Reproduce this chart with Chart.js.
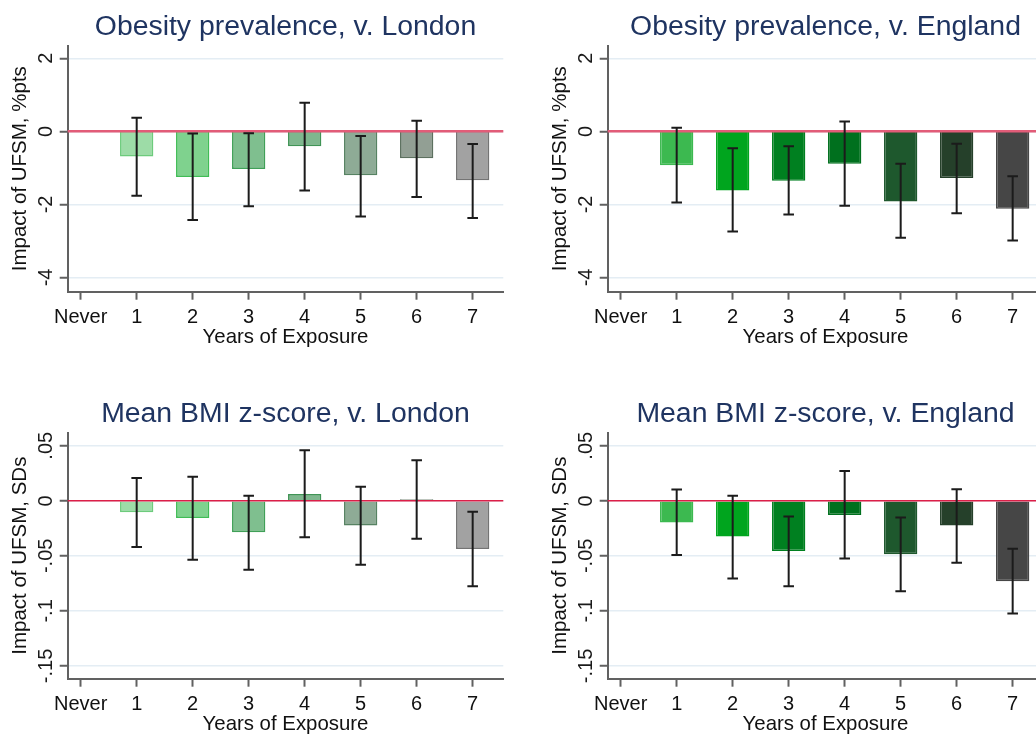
<!DOCTYPE html>
<html>
<head>
<meta charset="utf-8">
<title>Impact of UFSM by years of exposure</title>
<script src="https://cdn.jsdelivr.net/npm/chart.js@4.4.1/dist/chart.umd.min.js"></script>
<style>
  html, body { margin: 0; padding: 0; background: #ffffff; }
  #page { position: relative; width: 1036px; height: 734px; overflow: hidden; background: #ffffff; }
  .panel { position: absolute; width: 520px; height: 387px; }
  .panel canvas { display: block; }
</style>
</head>
<body>
<div id="page">
  <div class="panel" style="left:0px;top:0px"><canvas id="obesityLondonChart" width="520" height="387"></canvas></div>
  <div class="panel" style="left:540px;top:0px"><canvas id="obesityEnglandChart" width="520" height="387"></canvas></div>
  <div class="panel" style="left:0px;top:387px"><canvas id="bmiLondonChart" width="520" height="387"></canvas></div>
  <div class="panel" style="left:540px;top:387px"><canvas id="bmiEnglandChart" width="520" height="387"></canvas></div>
</div>
<script>
// ---- Data ----
const exposureYears = [1, 2, 3, 4, 5, 6, 7];
const xTickValues = [0, 1, 2, 3, 4, 5, 6, 7];
const xTickLabels = ['Never', '1', '2', '3', '4', '5', '6', '7'];

// Obesity prevalence (%-points), comparison with London
const obesityLondon     = [-0.69, -1.25, -1.03, -0.41, -1.20, -0.74, -1.34];
const obesityLondonLow  = [-1.76, -2.43, -2.05, -1.62, -2.33, -1.80, -2.37];
const obesityLondonHigh = [ 0.37, -0.06, -0.05,  0.78, -0.13,  0.29, -0.35];

// Obesity prevalence (%-points), comparison with England
const obesityEngland     = [-0.93, -1.62, -1.35, -0.89, -1.92, -1.28, -2.12];
const obesityEnglandLow  = [-1.95, -2.74, -2.28, -2.04, -2.91, -2.24, -2.99];
const obesityEnglandHigh = [ 0.10, -0.46, -0.41,  0.27, -0.89, -0.34, -1.23];

// Mean BMI z-score (SDs), comparison with London
const bmiLondon     = [-0.0103, -0.0155, -0.0286,  0.0061, -0.0225,  0.0015, -0.0438];
const bmiLondonLow  = [-0.0420, -0.0535, -0.0626, -0.0331, -0.0580, -0.0344, -0.0775];
const bmiLondonHigh = [ 0.0207,  0.0219,  0.0046,  0.0459,  0.0128,  0.0368, -0.0100];

// Mean BMI z-score (SDs), comparison with England
const bmiEngland     = [-0.0198, -0.0325, -0.0456, -0.0128, -0.0486, -0.0225, -0.0730];
const bmiEnglandLow  = [-0.0492, -0.0705, -0.0775, -0.0523, -0.0821, -0.0562, -0.1024];
const bmiEnglandHigh = [ 0.0103,  0.0046, -0.0143,  0.0271, -0.0152,  0.0106, -0.0435];

const obesityTickValues = [-4, -2, 0, 2];
const obesityTickLabels = ['-4', '-2', '0', '2'];
const bmiTickValues = [-0.15, -0.1, -0.05, 0, 0.05];
const bmiTickLabels = ['-.15', '-.1', '-.05', '0', '.05'];

// ---- Styling ----
const FONT = "'Liberation Sans', Arial, Helvetica, sans-serif";
const barColors = ['#3cb950', '#00a51e', '#008020', '#00701e', '#1e582d', '#25402a', '#464646'];
const AXIS_GREY = '#616161';
const GRID_BLUE = '#e4edf4';
const TITLE_NAVY = '#1f3461';

function withAlpha(hex, a) {
  const n = parseInt(hex.slice(1), 16);
  return 'rgba(' + ((n >> 16) & 255) + ',' + ((n >> 8) & 255) + ',' + (n & 255) + ',' + a + ')';
}

// Red reference line at zero plus confidence-interval whiskers
function whiskerPlugin(low, high, zeroColor, zeroWidth) {
  return {
    id: 'whiskers',
    afterDatasetsDraw(chart) {
      const { ctx, chartArea, scales: { x, y } } = chart;
      ctx.save();
      const y0 = y.getPixelForValue(0);
      ctx.strokeStyle = zeroColor;
      ctx.lineWidth = zeroWidth;
      ctx.beginPath();
      ctx.moveTo(chartArea.left, y0);
      ctx.lineTo(chartArea.right, y0);
      ctx.stroke();

      ctx.strokeStyle = '#1b1b1b';
      ctx.lineWidth = 2;
      const cap = 5.3;
      exposureYears.forEach((yr, i) => {
        const px = x.getPixelForValue(yr);
        const pLo = y.getPixelForValue(low[i]);
        const pHi = y.getPixelForValue(high[i]);
        ctx.beginPath();
        ctx.moveTo(px, pHi); ctx.lineTo(px, pLo);
        ctx.moveTo(px - cap, pHi); ctx.lineTo(px + cap, pHi);
        ctx.moveTo(px - cap, pLo); ctx.lineTo(px + cap, pLo);
        ctx.stroke();
      });
      ctx.restore();
    }
  };
}

// Vertical (rotated) labels for the value axis
function rotatedYLabels(tickLabels) {
  return {
    id: 'rotatedYLabels',
    afterDraw(chart) {
      const { ctx, chartArea, scales: { y } } = chart;
      ctx.save();
      ctx.font = '20px ' + FONT;
      ctx.fillStyle = '#1a1a1a';
      ctx.textAlign = 'center';
      ctx.textBaseline = 'middle';
      y.ticks.forEach((t, i) => {
        const py = y.getPixelForValue(t.value);
        ctx.save();
        ctx.translate(chartArea.left - 21, py);
        ctx.rotate(-Math.PI / 2);
        ctx.fillText(tickLabels[i], 0, 0);
        ctx.restore();
      });
      ctx.restore();
    }
  };
}

function makePanel(canvasId, cfg) {
  const fills = barColors.map(c => cfg.faded ? withAlpha(c, 0.5) : c);
  const borders = barColors.map(c => cfg.faded ? withAlpha(c, 0.75) : c);
  return new Chart(document.getElementById(canvasId), {
    type: 'bar',
    data: {
      datasets: [{
        data: exposureYears.map((yr, i) => ({ x: yr, y: cfg.values[i] })),
        backgroundColor: fills,
        borderColor: borders,
        borderWidth: 1.5,
        categoryPercentage: 1,
        barPercentage: 0.595
      }]
    },
    options: {
      responsive: false,
      animation: false,
      layout: { padding: { left: 0, top: 0, right: 16.7, bottom: 37.8 } },
      plugins: {
        legend: { display: false },
        tooltip: { enabled: false },
        title: {
          display: true,
          text: cfg.title,
          color: TITLE_NAVY,
          fullSize: false,
          font: { family: FONT, size: 28.4, weight: 'normal', lineHeight: 1.2 },
          padding: { top: 10, bottom: 1.6 }
        }
      },
      scales: {
        x: {
          type: 'linear',
          min: -0.232,
          max: 7.547,
          offset: false,
          afterBuildTicks: s => { s.ticks = xTickValues.map(v => ({ value: v })); },
          afterFit: s => { s.height = 57.5; },
          grid: { offset: false, drawOnChartArea: false, drawTicks: true, tickLength: 8, tickColor: AXIS_GREY, tickWidth: 2, color: AXIS_GREY },
          border: { display: true, color: AXIS_GREY, width: 2 },
          ticks: {
            autoSkip: false, minRotation: 0, maxRotation: 0, padding: 6,
            color: '#111111', font: { family: FONT, size: 20 },
            callback: (v, i) => xTickLabels[i]
          },
          title: {
            display: true, text: 'Years of Exposure', color: '#111111',
            font: { family: FONT, size: 20.4 }, padding: { top: 0, bottom: 0 }
          }
        },
        y: {
          type: 'linear',
          min: cfg.yMin,
          max: cfg.yMax,
          afterBuildTicks: s => { s.ticks = cfg.yTicks.map(v => ({ value: v })); },
          afterFit: s => { s.width = 67.7; },
          grid: { color: GRID_BLUE, lineWidth: 1.5, drawTicks: true, tickLength: 8, tickColor: AXIS_GREY, tickWidth: 2 },
          border: { display: true, color: AXIS_GREY, width: 2 },
          ticks: { display: false },
          title: {
            display: true, text: cfg.yTitle, color: '#111111',
            font: { family: FONT, size: 20.5 }, padding: { top: 8.2, bottom: 0 }
          }
        }
      }
    },
    plugins: [whiskerPlugin(cfg.low, cfg.high, cfg.zeroColor, cfg.zeroWidth), rotatedYLabels(cfg.yTickLabels)]
  });
}

makePanel('obesityLondonChart', {
  title: 'Obesity prevalence, v. London', yTitle: 'Impact of UFSM, %pts', faded: true,
  values: obesityLondon, low: obesityLondonLow, high: obesityLondonHigh,
  yMin: -4.39, yMax: 2.345, yTicks: obesityTickValues, yTickLabels: obesityTickLabels,
  zeroColor: '#e25c78', zeroWidth: 2.5
});
makePanel('obesityEnglandChart', {
  title: 'Obesity prevalence, v. England', yTitle: 'Impact of UFSM, %pts', faded: false,
  values: obesityEngland, low: obesityEnglandLow, high: obesityEnglandHigh,
  yMin: -4.39, yMax: 2.345, yTicks: obesityTickValues, yTickLabels: obesityTickLabels,
  zeroColor: '#e25c78', zeroWidth: 2.5
});
makePanel('bmiLondonChart', {
  title: 'Mean BMI z-score, v. London', yTitle: 'Impact of UFSM, SDs', faded: true,
  values: bmiLondon, low: bmiLondonLow, high: bmiLondonHigh,
  yMin: -0.1616, yMax: 0.0619, yTicks: bmiTickValues, yTickLabels: bmiTickLabels,
  zeroColor: '#dc1f48', zeroWidth: 1.6
});
makePanel('bmiEnglandChart', {
  title: 'Mean BMI z-score, v. England', yTitle: 'Impact of UFSM, SDs', faded: false,
  values: bmiEngland, low: bmiEnglandLow, high: bmiEnglandHigh,
  yMin: -0.1616, yMax: 0.0619, yTicks: bmiTickValues, yTickLabels: bmiTickLabels,
  zeroColor: '#dc1f48', zeroWidth: 1.6
});
</script>
</body>
</html>
